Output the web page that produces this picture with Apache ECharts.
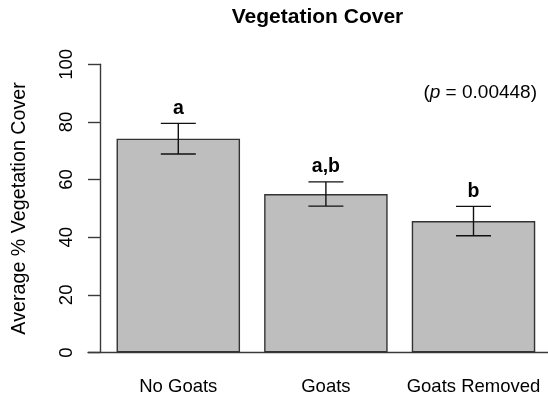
<!DOCTYPE html>
<html><head><meta charset="utf-8">
<script src="https://cdn.jsdelivr.net/npm/echarts@6/dist/echarts.min.js"></script>
<style>html,body{margin:0;padding:0;background:#fff}#c{width:548px;height:405px}</style>
</head><body><div id="c"></div>
<script>
const categories = ['No Goats', 'Goats', 'Goats Removed'];
const means = [74.2, 55.0, 45.6];
const se = [5.3, 4.2, 5.1];
const letters = ['a', 'a,b', 'b'];
const yTicks = [0, 20, 40, 60, 80, 100];
const pText = '0.00448';

const FONT = 'Liberation Sans, Arial, sans-serif';
const chart = echarts.init(document.getElementById('c'), null, {renderer: 'canvas'});
const AX = '#3a3a3a';
chart.setOption({
  animation: false,
  backgroundColor: '#fff',
  title: [
    {text: 'Vegetation Cover', left: 312.5, top: 2, textAlign: 'center',
     textStyle: {fontFamily: FONT, fontWeight: 'bold', fontSize: 21, color: '#000'}},
    {text: '({i|p} = ' + pText + ')', right: 6, top: 78,
     textStyle: {fontFamily: FONT, fontSize: 19, color: '#000', fontWeight: 'normal',
       rich: {i: {fontFamily: FONT, fontSize: 19, fontStyle: 'italic', color: '#000'}}}}
  ],
  grid: [
    {left: 104.5, width: 442.8, top: 64.3, height: 288.2},
    {left: 88, right: 0, top: 64.3, height: 288.2}
  ],
  xAxis: [
    {type: 'category', gridIndex: 0, data: categories,
     axisLine: {show: false}, axisTick: {show: false},
     axisLabel: {fontFamily: FONT, fontSize: 18.5, color: '#000', margin: 25,
                 interval: 0, hideOverlap: false}},
    {type: 'value', gridIndex: 1, min: 0, max: 1,
     axisLine: {show: true, lineStyle: {color: AX, width: 1.4}},
     axisTick: {show: false}, axisLabel: {show: false}, splitLine: {show: false}}
  ],
  yAxis: [
    {type: 'value', gridIndex: 0, min: yTicks[0], max: yTicks[yTicks.length - 1], interval: 20,
     offset: 4.5,
     name: 'Average % Vegetation Cover', nameLocation: 'middle', nameGap: 70,
     nameTextStyle: {fontFamily: FONT, fontSize: 19.7, color: '#000'},
     axisLine: {show: true, lineStyle: {color: AX, width: 1.4}},
     axisTick: {show: true, length: 12, inside: false, lineStyle: {color: AX, width: 1.4}},
     axisLabel: {fontFamily: FONT, fontSize: 18.5, color: '#000', rotate: 90, margin: 24},
     splitLine: {show: false}},
    {type: 'value', gridIndex: 1, show: false, min: 0, max: 1}
  ],
  series: [
    {type: 'bar', xAxisIndex: 0, yAxisIndex: 0, data: means, barWidth: 123.5,
     itemStyle: {color: '#bebebe', borderColor: '#333', borderWidth: 1.4}},
    {type: 'custom', xAxisIndex: 0, yAxisIndex: 0,
     data: means.map((m, i) => [i, m, se[i]]),
     renderItem: function (params, api) {
       const x = api.value(0), m = api.value(1), s = api.value(2);
       const hi = api.coord([x, m + s]);
       const lo = api.coord([x, m - s]);
       const hw = 17.5;
       const ls = {stroke: '#111', lineWidth: 1.4};
       return {type: 'group', children: [
         {type: 'line', shape: {x1: hi[0], y1: hi[1], x2: lo[0], y2: lo[1]}, style: ls},
         {type: 'line', shape: {x1: hi[0] - hw, y1: hi[1], x2: hi[0] + hw, y2: hi[1]}, style: ls},
         {type: 'line', shape: {x1: lo[0] - hw, y1: lo[1], x2: lo[0] + hw, y2: lo[1]}, style: ls},
         {type: 'text', style: {text: letters[params.dataIndex], x: hi[0], y: hi[1] - 15,
           textAlign: 'center', textVerticalAlign: 'middle',
           font: 'bold 19.5px ' + FONT, fill: '#000'}}
       ]};
     }, z: 5}
  ]
});
</script></body></html>
